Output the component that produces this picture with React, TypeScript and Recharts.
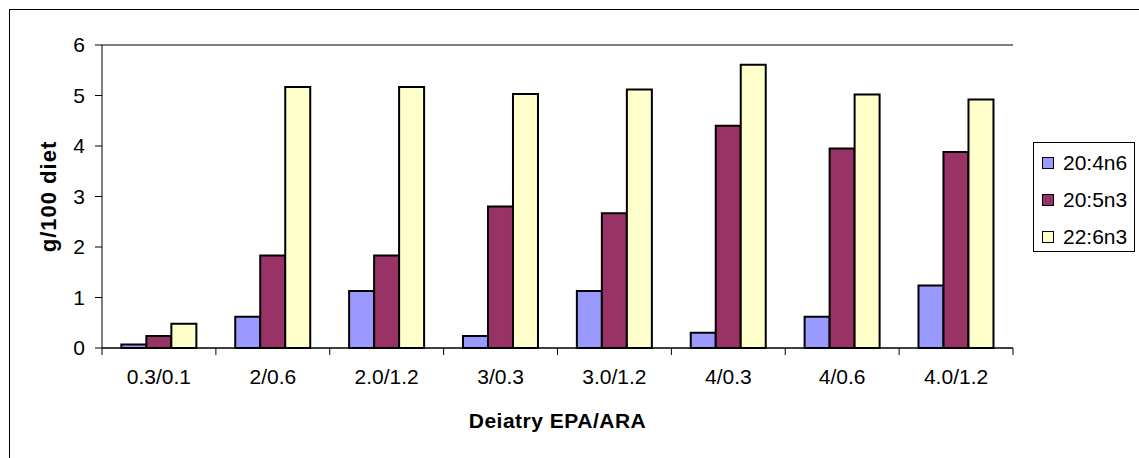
import { BarChart, Bar, XAxis, YAxis, CartesianGrid, ReferenceLine } from 'recharts';

// ─── Data ─────────────────────────────────────────────────────────────────────

const CATEGORIES = ['0.3/0.1', '2/0.6', '2.0/1.2', '3/0.3', '3.0/1.2', '4/0.3', '4/0.6', '4.0/1.2'];
const ARA_20_4N6 = [0.07, 0.62, 1.13, 0.24, 1.13, 0.3, 0.62, 1.24];
const EPA_20_5N3 = [0.24, 1.83, 1.83, 2.8, 2.67, 4.4, 3.95, 3.88];
const DHA_22_6N3 = [0.48, 5.17, 5.17, 5.03, 5.12, 5.61, 5.02, 4.92];
const Y_TICKS = [0, 1, 2, 3, 4, 5, 6];

const SERIES = [
  { key: 'ara', name: '20:4n6', color: '#9999FF', values: ARA_20_4N6 },
  { key: 'epa', name: '20:5n3', color: '#993366', values: EPA_20_5N3 },
  { key: 'dha', name: '22:6n3', color: '#FFFFCC', values: DHA_22_6N3 },
];

const data = CATEGORIES.map((cat, i) => ({
  cat,
  ara: ARA_20_4N6[i],
  epa: EPA_20_5N3[i],
  dha: DHA_22_6N3[i],
}));

// ─── Layout ───────────────────────────────────────────────────────────────────

const W = 1139;
const H = 458;
const MARGIN = { top: 45, right: 126, bottom: 30, left: 42 };
const Y_AXIS_W = 60;
const X_AXIS_H = 80;
const PLOT_LEFT = MARGIN.left + Y_AXIS_W;
const PLOT_W = W - PLOT_LEFT - MARGIN.right;
const AXIS_Y = H - MARGIN.bottom - X_AXIS_H;
const BAND = PLOT_W / CATEGORIES.length;
const FONT = 'Arial, "Liberation Sans", sans-serif';

// Excel-style category ticks: marks sit on the band boundaries, labels in the middle
function CategoryTick(props: any) {
  const { x, y, payload, index } = props;
  const left = x - BAND / 2;
  const right = x + BAND / 2;
  return (
    <g>
      <line x1={left} y1={AXIS_Y} x2={left} y2={AXIS_Y + 7} stroke="#000" />
      {index === CATEGORIES.length - 1 && (
        <line x1={right} y1={AXIS_Y} x2={right} y2={AXIS_Y + 7} stroke="#000" />
      )}
      <text x={x} y={y} dy="0.71em" textAnchor="middle" fontSize={21} fill="#000" fontFamily={FONT}>
        {payload.value}
      </text>
    </g>
  );
}

function Legend() {
  return (
    <div
      style={{
        position: 'absolute', left: 1033, top: 142, width: 100, height: 108,
        border: '1px solid #000', background: '#fff', fontFamily: FONT, fontSize: 21,
      }}
    >
      {SERIES.map((s, i) => (
        <div key={s.key} style={{ position: 'absolute', left: 8, top: 8 + i * 37, height: 24, display: 'flex', alignItems: 'center' }}>
          <span style={{ width: 10, height: 10, background: s.color, border: '1px solid #000', marginRight: 9 }} />
          <span>{s.name}</span>
        </div>
      ))}
    </div>
  );
}

export default function App() {
  return (
    <div style={{ position: 'relative', width: W, height: H, overflow: 'hidden', background: '#fff' }}>
      <style>{'body{margin:0;overflow:hidden}'}</style>
      <div style={{ position: 'absolute', left: 9, top: 9, width: 1300, height: 700, border: '1px solid #000' }} />
      <div style={{ position: 'absolute', left: 0, top: 0 }}>
        <BarChart
          width={W} height={H} data={data} margin={MARGIN}
          barCategoryGap="17%" barGap={0}
        >
          <CartesianGrid vertical={false} stroke="#000" strokeWidth={1} />
          <ReferenceLine y={6} stroke="#999" strokeWidth={1.5} />
          <XAxis
            dataKey="cat" height={X_AXIS_H} tickLine={false} tickMargin={15}
            axisLine={{ stroke: '#000' }} interval={0} tick={<CategoryTick />}
            label={{
              content: ({ viewBox }: any) => (
                <text
                  x={viewBox.x + viewBox.width / 2} y={viewBox.y + viewBox.height}
                  textAnchor="middle" fontSize={21} fontWeight="bold" fontFamily={FONT}
                  letterSpacing={0.5} fill="#000"
                >
                  Deiatry EPA/ARA
                </text>
              ),
            }}
          />
          <YAxis
            yAxisId="left" width={Y_AXIS_W} domain={[0, 6]} ticks={Y_TICKS} interval={0}
            tickSize={7} tickMargin={10} axisLine={{ stroke: '#000' }} tickLine={{ stroke: '#000' }}
            tick={{ fontSize: 21, fill: '#000', fontFamily: FONT }}
            label={{
              content: ({ viewBox }: any) => {
                const cx = viewBox.x + 14;
                const cy = viewBox.y + viewBox.height / 2;
                return (
                  <text
                    x={cx} y={cy} transform={`rotate(-90 ${cx} ${cy})`} textAnchor="middle"
                    fontSize={22} fontWeight="bold" fontFamily={FONT} letterSpacing={1} fill="#000"
                  >
                    g/100 diet
                  </text>
                );
              },
            }}
          />
          <YAxis
            yAxisId="right" orientation="right" width={0} domain={[0, 6]} ticks={Y_TICKS}
            tick={false} tickLine={false} axisLine={{ stroke: '#999', strokeWidth: 1.5 }}
          />
          {SERIES.map((s) => (
            <Bar
              key={s.key} yAxisId="left" dataKey={s.key} name={s.name} fill={s.color}
              stroke="#000" strokeWidth={2} isAnimationActive={false}
            />
          ))}
        </BarChart>
      </div>
      <Legend />
    </div>
  );
}
